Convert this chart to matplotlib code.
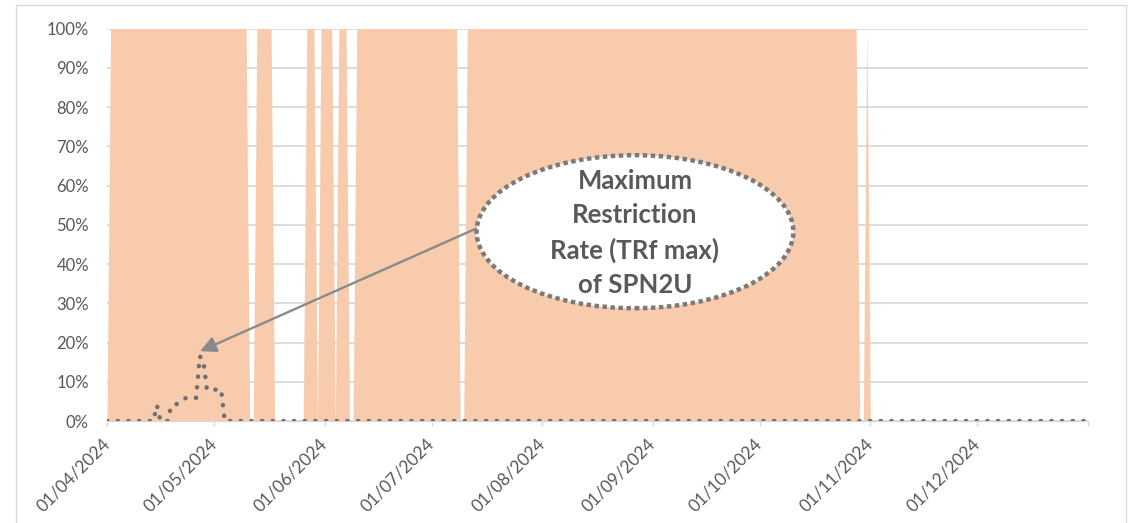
import matplotlib
matplotlib.use("Agg")
import matplotlib.pyplot as plt
import matplotlib.dates as mdates
from matplotlib.patches import Ellipse, Rectangle
import pandas as pd

# ---------------- data ----------------
start_date = "2024-04-01"
end_date = "2024-12-31"

# days on which the restriction indicator is at 100 %
restricted_periods = [
    ("2024-04-02", "2024-05-10"),
    ("2024-05-13", "2024-05-17"),
    ("2024-05-27", "2024-05-29"),
    ("2024-05-31", "2024-06-03"),
    ("2024-06-05", "2024-06-07"),
    ("2024-06-10", "2024-07-08"),
    ("2024-07-11", "2024-10-28"),
    ("2024-10-31", "2024-10-31"),
]

# non-zero values of the maximum restriction rate (TRf max), in %
trf_dates = ["2024-04-15", "2024-04-19", "2024-04-20", "2024-04-21", "2024-04-22",
             "2024-04-23", "2024-04-24", "2024-04-25", "2024-04-26", "2024-04-27",
             "2024-04-28", "2024-04-29", "2024-04-30", "2024-05-01", "2024-05-02",
             "2024-05-03"]
trf_values = [4.0, 3.8, 4.1, 4.5, 5.1,
              5.8, 5.9, 5.9, 5.9, 16.5,
              15.5, 8.0, 8.0, 8.0, 8.0,
              8.0]

month_ticks = ["2024-04-01", "2024-05-01", "2024-06-01", "2024-07-01", "2024-08-01",
               "2024-09-01", "2024-10-01", "2024-11-01", "2024-12-01"]
tick_labels = ["01/04/2024", "01/05/2024", "01/06/2024", "01/07/2024", "01/08/2024",
               "01/09/2024", "01/10/2024", "01/11/2024", "01/12/2024"]
axis_end = "2025-01-01"
y_ticks = [0, 10, 20, 30, 40, 50, 60, 70, 80, 90, 100]
y_labels = ["0%", "10%", "20%", "30%", "40%", "50%", "60%", "70%", "80%", "90%", "100%"]
annotation_text = "Maximum\nRestriction\nRate (TRf max)\nof SPN2U"

# ---------------- build series ----------------
dates = pd.date_range(start_date, end_date, freq="D")
area = pd.Series(0.0, index=dates)
for a, b in restricted_periods:
    area[a:b] = 100.0
trf = pd.Series(0.0, index=dates)
trf[pd.to_datetime(trf_dates)] = trf_values

# ---------------- figure ----------------
plt.rcParams["font.family"] = ["Lato", "DejaVu Sans"]
W, H = 1133, 523
fig = plt.figure(figsize=(W / 100, H / 100), dpi=100)
ax = fig.add_axes([107 / W, (H - 421) / H, 981 / W, 392.3 / H])

ax.fill_between(dates, 0, area.values, color="#F8CBAD", linewidth=0, zorder=2)
ax.plot(dates, trf.values, color="#6E6E6E", lw=3.2,
        linestyle=(0, (0.05, 2.35)), dash_capstyle="round", zorder=5)

ax.set_xlim(pd.Timestamp(start_date), pd.Timestamp(axis_end))
ax.set_ylim(0, 100)

for s in ["left", "right", "top"]:
    ax.spines[s].set_visible(False)
ax.spines["bottom"].set_color("#D9D9D9")
ax.spines["bottom"].set_linewidth(1.0)
ax.spines["bottom"].set_zorder(3)

ax.set_yticks(y_ticks)
ax.set_yticklabels(y_labels)
ax.yaxis.grid(True, color="#D9D9D9", lw=1.3)
ax.set_axisbelow(True)
ax.tick_params(axis="y", length=0, pad=13, labelsize=12, labelcolor="#595959")

xt = list(pd.to_datetime(month_ticks)) + [pd.Timestamp(axis_end)]
ax.set_xticks(xt)
ax.set_xticklabels(tick_labels + [""], rotation=45, ha="right", va="center",
                   rotation_mode="anchor")
ax.tick_params(axis="x", direction="out", length=3.6, width=1, color="#D9D9D9",
               pad=11, labelsize=12.5, labelcolor="#595959")

# ---------------- annotation ----------------
x0 = mdates.date2num(pd.Timestamp(start_date))
ax.annotate("", xy=(x0 + 26.1, 17.8), xytext=(x0 + 103.6, 49.1),
            arrowprops=dict(arrowstyle="-|>", color="#8A8A8A", lw=1.7,
                            mutation_scale=24, shrinkA=0, shrinkB=0),
            zorder=6)
ell = Ellipse((x0 + 148, 48.25), 88.8, 39.0, facecolor="white",
              edgecolor="#7A7A7A", lw=3.2, linestyle=(0, (1, 0.8)), zorder=7)
ax.add_patch(ell)
ax.text(x0 + 148, 47.9, annotation_text, ha="center", va="center",
        fontsize=18.5, fontweight="bold", color="#595959", linespacing=1.5, zorder=8)

# chart-area border
fig.add_artist(Rectangle((16 / W, -0.1), (1126 - 16) / W, (H - 5) / H + 0.1,
                         transform=fig.transFigure, fill=False,
                         ec="#D9D9D9", lw=1.0))

fig.savefig("out.png", dpi=100)
